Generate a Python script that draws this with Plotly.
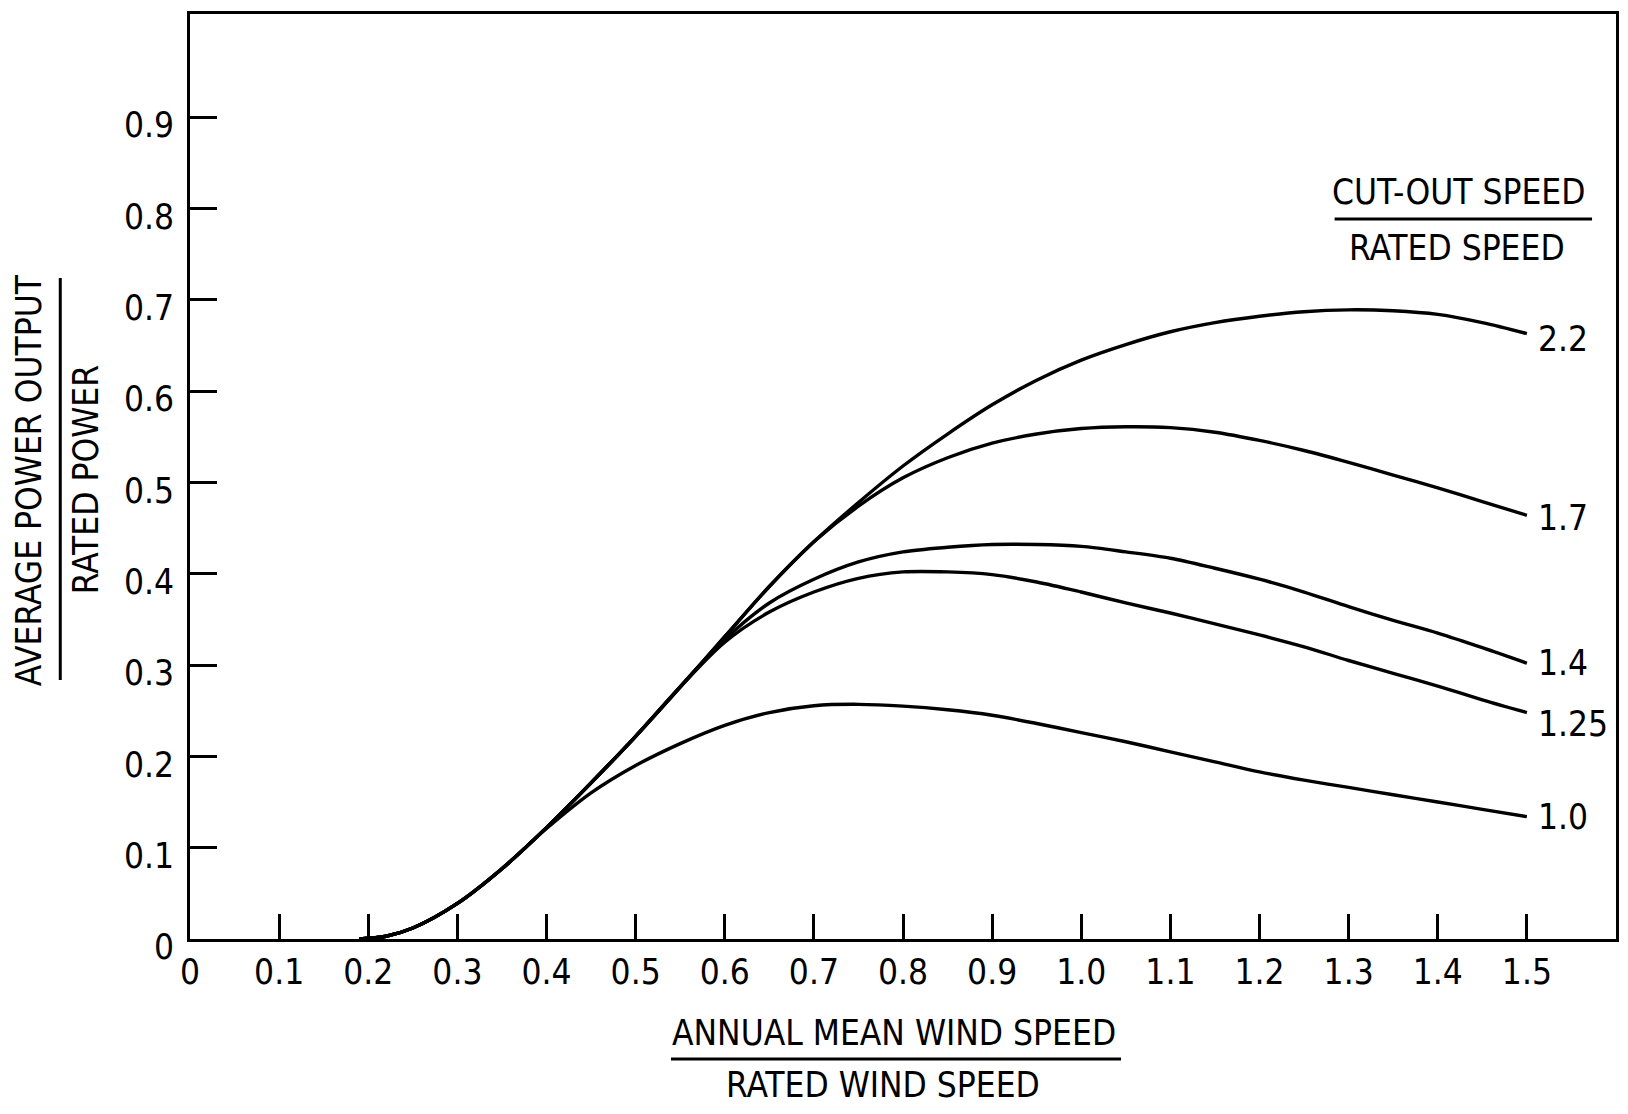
import plotly.graph_objects as go

# Annual mean wind speed / rated wind speed
wind_ratio = [0.19, 0.22, 0.25, 0.30, 0.35, 0.40, 0.45, 0.50, 0.55, 0.60, 0.65,
              0.70, 0.75, 0.80, 0.85, 0.90, 0.95, 1.00, 1.05, 1.10, 1.15,
              1.20, 1.25, 1.30, 1.35, 1.40, 1.45, 1.50]

# Average power output / rated power, one curve per cut-out/rated speed ratio
power_2_2 = [0.0, 0.003, 0.012, 0.039, 0.077, 0.122, 0.171, 0.222, 0.276, 0.331, 0.386,
             0.435, 0.478, 0.518, 0.553, 0.585, 0.612, 0.634, 0.651, 0.665, 0.675,
             0.682, 0.687, 0.689, 0.688, 0.684, 0.675, 0.663]
power_1_7 = [0.0, 0.003, 0.012, 0.039, 0.077, 0.122, 0.171, 0.222, 0.276, 0.331, 0.386,
             0.435, 0.474, 0.505, 0.527, 0.543, 0.553, 0.559, 0.561, 0.560, 0.555,
             0.546, 0.535, 0.522, 0.508, 0.494, 0.479, 0.464]
power_1_4 = [0.0, 0.003, 0.012, 0.039, 0.077, 0.122, 0.171, 0.222, 0.276, 0.328, 0.368,
             0.394, 0.413, 0.424, 0.429, 0.432, 0.432, 0.430, 0.424, 0.417, 0.406,
             0.394, 0.380, 0.364, 0.349, 0.335, 0.319, 0.302]
power_1_25 = [0.0, 0.003, 0.012, 0.039, 0.077, 0.122, 0.171, 0.222, 0.276, 0.325, 0.358,
              0.380, 0.395, 0.402, 0.402, 0.399, 0.391, 0.380, 0.368, 0.357, 0.345,
              0.333, 0.320, 0.305, 0.291, 0.277, 0.262, 0.248]
power_1_0 = [0.0, 0.003, 0.012, 0.039, 0.077, 0.121, 0.160, 0.190, 0.214, 0.234, 0.248,
             0.2555, 0.257, 0.255, 0.251, 0.245, 0.236, 0.226, 0.216, 0.205, 0.194,
             0.183, 0.174, 0.166, 0.158, 0.150, 0.142, 0.134]

curve_labels = ["2.2", "1.7", "1.4", "1.25", "1.0"]
curve_values = [power_2_2, power_1_7, power_1_4, power_1_25, power_1_0]

x_tick_vals = [0, 0.1, 0.2, 0.3, 0.4, 0.5, 0.6, 0.7, 0.8, 0.9, 1.0, 1.1, 1.2, 1.3, 1.4, 1.5]
x_tick_text = ["0", "0.1", "0.2", "0.3", "0.4", "0.5", "0.6", "0.7", "0.8", "0.9",
               "1.0", "1.1", "1.2", "1.3", "1.4", "1.5"]
y_tick_vals = [0, 0.1, 0.2, 0.3, 0.4, 0.5, 0.6, 0.7, 0.8, 0.9]
y_tick_text = ["0", "0.1", "0.2", "0.3", "0.4", "0.5", "0.6", "0.7", "0.8", "0.9"]

FONT = "Liberation Sans Narrow, DejaVu Sans Condensed, Arial Narrow, sans-serif"

W, H = 1628, 1114
L, R, T, B = 190, 9, 14, 175
PW, PH = W - L - R, H - T - B


def px(xpix):
    return (xpix - L) / PW


def py(ypix):
    return (H - B - ypix) / PH


fig = go.Figure()
for name, vals in zip(curve_labels, curve_values):
    fig.add_trace(go.Scatter(
        x=wind_ratio, y=vals, mode="lines", name=name,
        line=dict(color="black", width=3.4, shape="spline", smoothing=0.9),
        showlegend=False, hoverinfo="skip",
    ))

# Curve labels at the right-hand ends
label_dy = {"2.2": -5, "1.7": -3, "1.4": 0, "1.25": -11, "1.0": 0}
for name, vals in zip(curve_labels, curve_values):
    fig.add_annotation(
        x=wind_ratio[-1], y=vals[-1], xref="x", yref="y",
        text=name, showarrow=False, xanchor="left", yanchor="middle",
        xshift=9, yshift=label_dy[name],
        font=dict(family=FONT, size=35, color="black"),
    )

text_font = dict(family=FONT, size=35, color="black")

# Legend heading: cut-out speed / rated speed
fig.add_annotation(x=px(1461), y=py(192), xref="paper", yref="paper",
                   text="CUT-OUT SPEED", showarrow=False, font=text_font,
                   xanchor="center", yanchor="middle")
fig.add_annotation(x=px(1460), y=py(248), xref="paper", yref="paper",
                   text="RATED SPEED", showarrow=False, font=text_font,
                   xanchor="center", yanchor="middle")
fig.add_shape(type="line", xref="paper", yref="paper",
              x0=px(1337), x1=px(1595), y0=py(219), y1=py(219),
              line=dict(color="black", width=3))

# X axis title as a fraction
fig.add_annotation(x=px(895), y=py(1033), xref="paper", yref="paper",
                   text="ANNUAL MEAN WIND SPEED", showarrow=False, font=text_font,
                   xanchor="center", yanchor="middle")
fig.add_annotation(x=px(884), y=py(1085), xref="paper", yref="paper",
                   text="RATED WIND SPEED", showarrow=False, font=text_font,
                   xanchor="center", yanchor="middle")
fig.add_shape(type="line", xref="paper", yref="paper",
              x0=px(672), x1=px(1123), y0=py(1059), y1=py(1059),
              line=dict(color="black", width=3))

# Y axis title as a fraction
fig.add_annotation(x=px(29), y=py(480), xref="paper", yref="paper",
                   text="AVERAGE POWER OUTPUT", showarrow=False, font=text_font,
                   textangle=-90, xanchor="center", yanchor="middle")
fig.add_annotation(x=px(86), y=py(480), xref="paper", yref="paper",
                   text="RATED POWER", showarrow=False, font=text_font,
                   textangle=-90, xanchor="center", yanchor="middle")
fig.add_shape(type="line", xref="paper", yref="paper",
              x0=px(60), x1=px(60), y0=py(278), y1=py(680),
              line=dict(color="black", width=3))

fig.update_layout(
    width=W, height=H,
    margin=dict(l=L, r=R, t=T, b=B, pad=0),
    paper_bgcolor="white", plot_bgcolor="white",
    font=dict(family=FONT, color="black"),
    xaxis=dict(
        range=[0, 1.6], tickvals=x_tick_vals, ticktext=x_tick_text,
        ticks="inside", ticklen=25, tickwidth=2.5, tickcolor="black",
        showline=True, linewidth=3, linecolor="black", mirror=True,
        showgrid=False, zeroline=False,
        tickfont=dict(family=FONT, size=35, color="black"),
    ),
    yaxis=dict(
        range=[0, 1.013], tickvals=y_tick_vals, ticktext=y_tick_text,
        ticks="inside", ticklen=27, tickwidth=2.5, tickcolor="black",
        showline=True, linewidth=3, linecolor="black", mirror=True,
        showgrid=False, zeroline=False,
        tickfont=dict(family=FONT, size=35, color="black"),
        ticklabelshift=8, ticklabelstandoff=6,
    ),
)

fig.write_html("out.html")
